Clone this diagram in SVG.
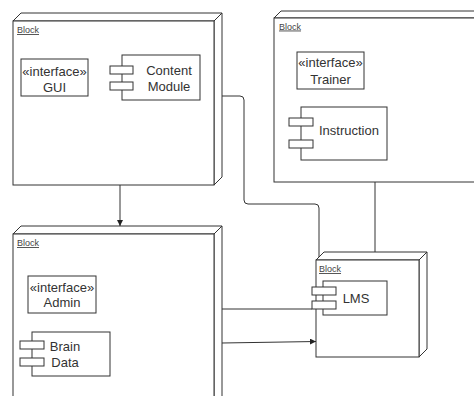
<svg xmlns="http://www.w3.org/2000/svg" width="474" height="396" viewBox="0 0 474 396">
<defs>
<marker id="arr" viewBox="0 0 10 10" refX="10" refY="5" markerWidth="6" markerHeight="6" orient="auto" markerUnits="userSpaceOnUse">
<path d="M0,0 L10,5 L0,10 Z" fill="#222"/>
</marker>
<style>
.box{fill:#fff;stroke:#333;stroke-width:1}
.ln{fill:none;stroke:#333;stroke-width:1}
.t{font-family:"Liberation Sans",Arial,sans-serif;font-size:13px;fill:#333;text-anchor:middle}
.lbl{font-family:"Liberation Sans",Arial,sans-serif;font-size:9px;fill:#444;text-decoration:underline}
</style>
</defs>
<rect width="474" height="396" fill="#fff"/>

<g id="block1">
<polygon class="box" points="13,21 21,13 222,13 214,21"/>
<polygon class="box" points="214,21 222,13 222,177 214,185"/>
<rect class="box" x="13" y="21" width="201" height="164"/>
<text class="lbl" x="17" y="33">Block</text>
<g id="gui">
<rect class="box" x="21" y="59" width="67" height="37"/>
<text class="t" x="54.5" y="75.5">«interface»</text>
<text class="t" x="54.5" y="91.5">GUI</text>
</g>
<g id="content-module">
<rect class="box" x="122" y="55" width="78" height="45"/>
<rect class="box" x="110" y="66" width="23" height="8"/>
<rect class="box" x="110" y="82" width="23" height="8"/>
<text class="t" x="169" y="75">Content</text>
<text class="t" x="169" y="91">Module</text>
</g>
</g>

<g id="block2">
<polygon class="box" points="274,18 281,11 490,11 483,18"/>
<rect class="box" x="274" y="18" width="220" height="164"/>
<text class="lbl" x="279" y="29.5">Block</text>
<g id="trainer">
<rect class="box" x="297" y="52" width="67" height="37"/>
<text class="t" x="330.5" y="66.5">«interface»</text>
<text class="t" x="330.5" y="83.5">Trainer</text>
</g>
<g id="instruction">
<rect class="box" x="301" y="107" width="86" height="53"/>
<rect class="box" x="289" y="118" width="24" height="8"/>
<rect class="box" x="289" y="140" width="24" height="8"/>
<text class="t" x="349" y="134.5">Instruction</text>
</g>
</g>

<g id="block3">
<polygon class="box" points="13,234 21,226 222,226 214,234"/>
<polygon class="box" points="214,234 222,226 222,410 214,410"/>
<rect class="box" x="13" y="234" width="201" height="180"/>
<text class="lbl" x="17" y="246">Block</text>
<g id="admin">
<rect class="box" x="28" y="276" width="68" height="37"/>
<text class="t" x="62" y="291.5">«interface»</text>
<text class="t" x="62" y="306.5">Admin</text>
</g>
<g id="brain-data">
<rect class="box" x="32" y="332" width="78" height="44"/>
<rect class="box" x="20" y="341" width="24" height="8"/>
<rect class="box" x="20" y="358" width="24" height="8"/>
<text class="t" x="65" y="350.5">Brain</text>
<text class="t" x="65" y="366.5">Data</text>
</g>
</g>

<g id="lms-block">
<polygon class="box" points="316,260 324,252 427,252 419,260"/>
<polygon class="box" points="419,260 427,252 427,349 419,357"/>
<rect class="box" x="316" y="260" width="103" height="97"/>
<text class="lbl" x="319" y="272">Block</text>
<g id="lms">
<rect class="box" x="323" y="281" width="64" height="34"/>
<rect class="box" x="312" y="287" width="24" height="8"/>
<rect class="box" x="312" y="301" width="24" height="8"/>
<text class="t" x="356" y="302.5">LMS</text>
</g>
</g>

<g id="connectors">
<path class="ln" d="M222 96 H240 Q244 96 244 100 V200 Q244 204 248 204 H315 Q319 204 319 208 V257"/>
<path class="ln" d="M375 182 V252"/>
<path class="ln" d="M120 185 V226" marker-end="url(#arr)"/>
<path class="ln" d="M222 309 H312"/>
<path class="ln" d="M222 343 L316 341.5" marker-end="url(#arr)"/>
</g>
</svg>
